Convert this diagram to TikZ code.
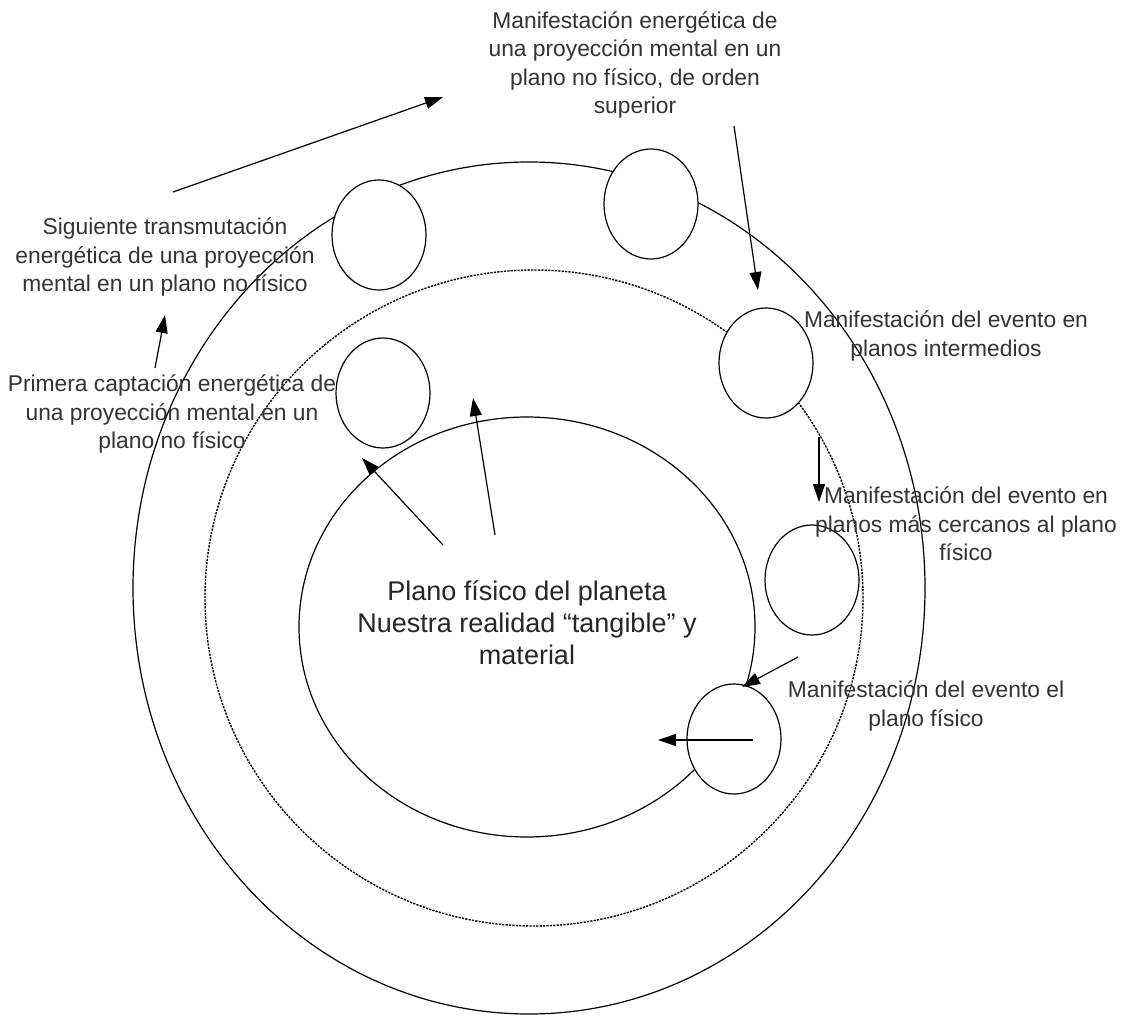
\documentclass[tikz,border=0pt]{standalone}
\usepackage{fontspec}
\setmainfont{Liberation Sans}
\usetikzlibrary{arrows.meta, shapes.geometric}

\begin{document}
\begin{tikzpicture}[x=0.5pt, y=-0.5pt, >={Triangle[length=9pt,width=6pt]}, line width=0.6pt]
  \tikzset{
    ring/.style={
      draw,
      ellipse,
      inner sep=0pt},
    orb/.style={
      draw,
      ellipse,
      fill=white,
      inner sep=0pt,
      minimum width=47pt,
      minimum height=55pt},
    blank/.style={
      align=center,
      text=black!80,
      font=\fontsize{11.4}{14.25}\selectfont},
    big/.style={
      align=center,
      text=black!85,
      font=\fontsize{13.5}{16}\selectfont}}

  \useasboundingbox (0,0) rectangle (1123,1016);

  % planes
  \node[ring, minimum width=396pt, minimum height=426pt] (outer) at (529,588) {};
  \node[ring, line width=0.7pt, dash pattern=on 1.1pt off 0.6pt, minimum width=329pt, minimum height=328pt] (middle) at (534,598) {};
  \node[ring, minimum width=228pt, minimum height=210pt] (inner) at (527,627) {};

  % events
  \node[orb] (orbSig) at (379,235) {};
  \node[orb] (orbSup) at (651,204) {};
  \node[orb] (orbInt) at (766,363) {};
  \node[orb] (orbPri) at (383,393) {};
  \node[orb] (orbCer) at (812,580) {};
  \node[orb] (orbFis) at (734,739) {};

  \node[blank] (supText) at (635,65) {Manifestación energética de\\una proyección mental en un\\plano no físico, de orden\\superior};
  \node[blank] (sigText) at (165,257) {Siguiente transmutación\\energética de una proyección\\mental en un plano no físico};
  \node[blank] (priText) at (172,414) {Primera captación energética de\\una proyección mental en un\\plano no físico};
  \node[blank] (intText) at (946,336) {Manifestación del evento en\\planos intermedios};
  \node[blank] (cerText) at (966,524) {Manifestación del evento en\\planos más cercanos al plano\\físico};
  \node[blank] (fisText) at (926,706) {Manifestación del evento el\\plano físico};
  \node[big] (planeta) at (527,623) {Plano físico del planeta\\Nuestra realidad “tangible” y\\material};

  \coordinate (a1) at (173,192);
  \coordinate (b1) at (443,97);
  \coordinate (a2) at (155,368);
  \coordinate (b2) at (165,315);
  \coordinate (a3) at (734,126);
  \coordinate (b3) at (758,290);
  \coordinate (a4) at (819,437);
  \coordinate (b4) at (819,502);
  \coordinate (a5) at (798,657);
  \coordinate (b5) at (742,687);
  \coordinate (a6) at (753,740);
  \coordinate (b6) at (658,740);
  \coordinate (a7) at (443,545);
  \coordinate (b7) at (362,458);
  \coordinate (a8) at (495,535);
  \coordinate (b8) at (473,398);

  \foreach \i in {1,...,8}
    \draw[->] (a\i) -- (b\i);

\end{tikzpicture}
\end{document}
